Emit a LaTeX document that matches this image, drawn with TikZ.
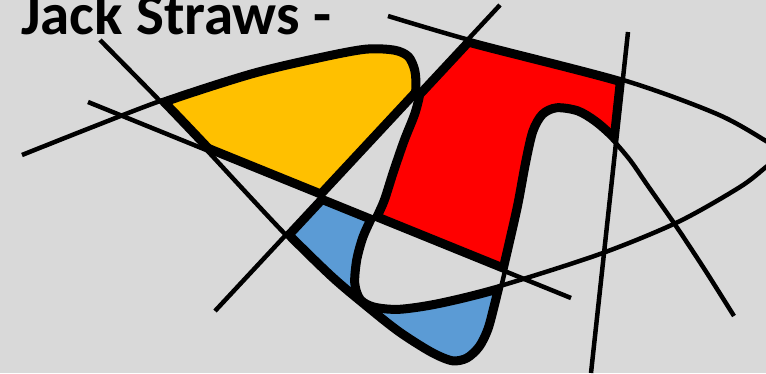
\documentclass[tikz,border=0pt]{standalone}
\usepackage{fontspec}
\setmainfont{Carlito}
\usetikzlibrary{calc}
\definecolor{bgc}{HTML}{D9D9D9}
\definecolor{yelc}{HTML}{FFC000}
\definecolor{redc}{HTML}{FF0000}
\definecolor{bluc}{HTML}{5B9BD5}
\def\pathA{plot[smooth,tension=0.5] coordinates {(100,40) (160,101) (203,146) (240,186) (285,234) (330,278) (363,306) (397,333) (430,354) (452,363) (468,360) (481,348) (490,330) (497,304) (504,275) (511,245) (520,205) (528,162) (535,132) (544,116) (557,110) (577,113) (594,123) (611,138) (630,160) (648,186) (676,226) (705,270) (734,316)}}
\def\pathB{plot[smooth,tension=0.5] coordinates {(22,155) (90,128) (163,100) (250,72) (317,56) (365,47) (395,48) (410,55) (417,70) (418,90) (413,112) (402,140) (391,172) (382,200) (373,220) (365,238) (359,260) (357,283) (362,298) (375,305) (400,307) (440,301) (500,286) (600,254) (678,222) (740,187) (766,167) (783,153) (766,141) (717,114) (623,80) (473,41) (388,16)}}
\def\pathC{(C1) -- (C2)}
\def\pathD{(D1) -- (D2)}
\def\pathE{(E1) -- (E2)}
\def\Aclosed{\pathA -- (760,420) -- (60,420) -- cycle}
\def\Bclosed{\pathB -- (388,-60) -- (22,-60) -- cycle}
\def\bigrect{(-300,-300) rectangle (1100,700)}
\tikzset{thinstraw/.style={line width=4.5pt},borderstraw/.style={line width=13.5pt}}
\newcommand\allstraws[1]{\draw[#1] \pathA; \draw[#1] \pathB; \draw[#1] \pathC; \draw[#1] \pathD; \draw[#1] \pathE;}
\begin{document}
\begin{tikzpicture}[x=1pt,y=-1pt]
\useasboundingbox (0,0) rectangle (766,373);
\clip (0,0) rectangle (766,373);
\fill[bgc] (0,0) rectangle (766,373);
\coordinate (C1) at (88,102); \coordinate (C2) at (571,298);
\coordinate (D1) at (215,311); \coordinate (D2) at (500,5);
\coordinate (E1) at (628,32); \coordinate (E2) at (591,373);
\coordinate (CD) at (intersection of C1--C2 and D1--D2);
\coordinate (CE) at (intersection of C1--C2 and E1--E2);
\coordinate (DE) at (intersection of D1--D2 and E1--E2);
% yellow
\begin{scope}
\clip (140,36) rectangle (440,215);
\clip ($(C1)!-1!(C2)$) -- (CD) -- ($(D1)!2!(D2)$) -- (-300,-300) -- cycle;
\begin{scope}[even odd rule]
\clip \bigrect \Aclosed;
\clip \bigrect \Bclosed;
\fill[yelc] \bigrect;
\allstraws{borderstraw}
\end{scope}
\end{scope}
% red
\begin{scope}
\clip (CD) -- (CE) -- (DE) -- cycle;
\clip \Bclosed;
\begin{scope}[even odd rule]
\clip \bigrect \Aclosed;
\fill[redc] \bigrect;
\allstraws{borderstraw}
\end{scope}
\end{scope}
% blue
\begin{scope}
\clip (270,190) rectangle (540,373);
\clip (CD) -- ($(C1)!3!(C2)$) -- (1537,923) -- ($(D2)!3!(D1)$) -- cycle;
\begin{scope}[even odd rule]
\clip \bigrect \Aclosed;
\clip \bigrect \Bclosed;
\fill[bluc] \bigrect;
\allstraws{borderstraw}
\end{scope}
\end{scope}
\allstraws{thinstraw}
\node[anchor=base west, inner sep=0pt, font=\fontsize{59}{64}\selectfont\bfseries] (title) at (21,34) {Jack Straws -};
\end{tikzpicture}
\end{document}
